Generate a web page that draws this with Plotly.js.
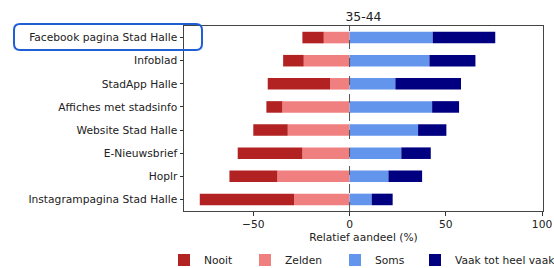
<!DOCTYPE html>
<html>
<head>
<meta charset="utf-8">
<script src="https://cdn.plot.ly/plotly-3.0.1.min.js"></script>
<style>html,body{margin:0;padding:0;background:#fff;}#chart{width:554px;height:268px;}</style>
</head>
<body>
<div id="chart"></div>
<script>
const categories = ["Facebook pagina Stad Halle","Infoblad","StadApp Halle","Affiches met stadsinfo","Website Stad Halle","E-Nieuwsbrief","Hoplr","Instagrampagina Stad Halle"];
const nooit  = [11.1, 10.7, 32.4, 8.3, 17.9, 33.6, 24.9, 49.0];
const zelden = [13.4, 23.8, 10.1, 34.9, 32.1, 24.5, 37.5, 28.8];
const soms   = [43.2, 41.5, 23.8, 42.9, 35.6, 26.9, 20.2, 11.5];
const vaak   = [32.5, 23.9, 34.1, 14.0, 14.7, 15.3, 17.5, 10.9];
const xTicks = [-50, 0, 50, 100];
const seriesNames = ["Nooit","Zelden","Soms","Vaak tot heel vaak"];
const colors = ["#B22222","#F08080","#6495ED","#000080"];

const neg = v => v.map(x => -x);
const mk = (name, vals, color, leg) => ({
  type: 'bar', orientation: 'h', y: categories, x: vals, name: name,
  marker: {color: color, line: {width: 0}}, width: 0.5, legend: leg,
  hoverinfo: 'skip'
});
const traces = [
  mk(seriesNames[1], neg(zelden), colors[1], 'legend2'),
  mk(seriesNames[0], neg(nooit), colors[0], 'legend'),
  mk(seriesNames[2], soms, colors[2], 'legend3'),
  mk(seriesNames[3], vaak, colors[3], 'legend4')
];

const W = 554, H = 268;
const L = 184, R = 543, T = 26, B = 211;
const pw = R - L, ph = B - T;
const px = x => (x - L) / pw, py = y => (B - y) / ph;
// rounded box around highlighted label
const bx0 = 14, bx1 = 202, by0 = 24, by1 = 50, rr = 6;
const boxPath = `M ${px(bx0+rr)} ${py(by0)} L ${px(bx1-rr)} ${py(by0)} Q ${px(bx1)} ${py(by0)} ${px(bx1)} ${py(by0+rr)} L ${px(bx1)} ${py(by1-rr)} Q ${px(bx1)} ${py(by1)} ${px(bx1-rr)} ${py(by1)} L ${px(bx0+rr)} ${py(by1)} Q ${px(bx0)} ${py(by1)} ${px(bx0)} ${py(by1-rr)} L ${px(bx0)} ${py(by0+rr)} Q ${px(bx0)} ${py(by0)} ${px(bx0+rr)} ${py(by0)} Z`;

const legendAt = xl => ({orientation: 'h', xref: 'container', yref: 'container', x: xl / W, xanchor: 'left',
  y: 1 - 260 / H, yanchor: 'middle', font: {size: 10.7}, bgcolor: 'rgba(0,0,0,0)'});

const layout = {
  width: W, height: H,
  margin: {l: L, r: W - R, t: T, b: H - B, pad: 0, autoexpand: false},
  paper_bgcolor: '#fff', plot_bgcolor: '#fff',
  font: {family: 'DejaVu Sans, sans-serif', size: 10.7, color: '#222'},
  barmode: 'relative',
  showlegend: true,
  title: {text: '35-44', x: 0.5, xref: 'paper', xanchor: 'center', y: 1, yref: 'paper', yanchor: 'bottom', pad: {b: 5}, font: {size: 12.4, color: '#222'}},
  xaxis: {
    range: [-86, 100.5], tickvals: xTicks, ticks: 'outside', ticklen: 3.5, tickcolor: '#333',
    showgrid: false, zeroline: false, showline: true, linecolor: '#444', linewidth: 1, mirror: true,
    title: {text: 'Relatief aandeel (%)', standoff: 3, font: {size: 10.7}}, fixedrange: true
  },
  yaxis: {
    type: 'category', categoryorder: 'array', categoryarray: categories,
    range: [7.5, -0.5], ticks: 'outside', ticklen: 3.5, tickcolor: '#333',
    showgrid: false, zeroline: false, showline: true, linecolor: '#444', linewidth: 1, mirror: true,
    fixedrange: true
  },
  legend: legendAt(164),
  legend2: legendAt(245),
  legend3: legendAt(335),
  legend4: legendAt(415),
  shapes: [
    {type: 'line', xref: 'x', yref: 'paper', x0: 0, x1: 0, y0: 0, y1: 1, line: {color: '#555', width: 1, dash: 'dash'}},
    {type: 'path', xref: 'paper', yref: 'paper', path: boxPath, line: {color: '#1f5fd6', width: 2}, layer: 'above'}
  ]
};

Plotly.newPlot('chart', traces, layout, {displayModeBar: false, staticPlot: true});
</script>
</body>
</html>
